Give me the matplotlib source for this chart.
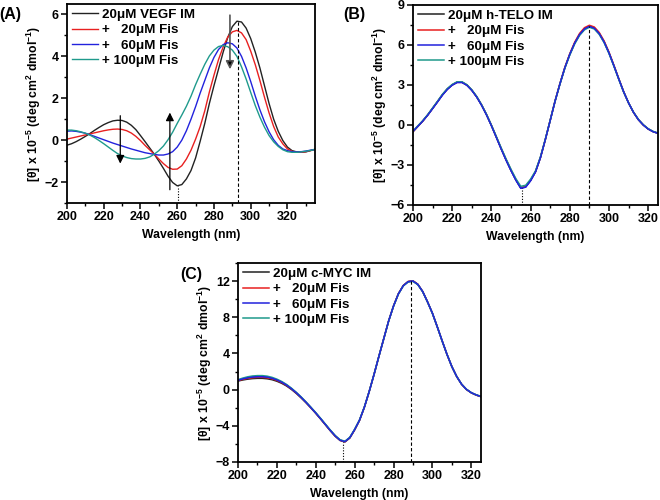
import numpy as np
import matplotlib
matplotlib.use('Agg')
import matplotlib.pyplot as plt
from matplotlib.ticker import MultipleLocator

plt.rcParams['font.family'] = ['Liberation Sans', 'DejaVu Sans']
plt.rcParams['font.weight'] = 'bold'
plt.rcParams['mathtext.fontset'] = 'custom'
plt.rcParams['mathtext.rm'] = 'Liberation Sans:bold'
plt.rcParams['mathtext.default'] = 'rm'

# ---------------- data ----------------
labels_a = ['20\u03bcM VEGF IM', '+   20\u03bcM Fis', '+   60\u03bcM Fis', '+ 100\u03bcM Fis']
labels_b = ['20\u03bcM h-TELO IM', '+   20\u03bcM Fis', '+   60\u03bcM Fis', '+ 100\u03bcM Fis']
labels_c = ['20\u03bcM c-MYC IM', '+   20\u03bcM Fis', '+   60\u03bcM Fis', '+ 100\u03bcM Fis']
colors = ['#222222', '#e82020', '#2222dd', '#1f9a8c']

# panel A: VEGF, 200-335 nm every 2.5 nm
wl_a = np.arange(200, 335.1, 2.5)
vegf_im = [-0.24, -0.17, -0.07, 0.05, 0.18, 0.32, 0.47, 0.61, 0.74, 0.84, 0.92, 0.95, 0.94, 0.86,
           0.71, 0.5, 0.22, -0.07, -0.37, -0.67, -1.0, -1.35, -1.72, -2.02, -2.18, -2.12, -1.85,
           -1.45, -0.85, -0.05, 0.8, 1.75, 2.6, 3.4, 4.2, 4.9, 5.42, 5.68, 5.64, 5.35, 4.85, 4.2,
           3.45, 2.6, 1.75, 1.0, 0.42, -0.02, -0.33, -0.5, -0.56, -0.58, -0.56, -0.5, -0.43]
vegf_20 = [0.05, 0.1, 0.15, 0.2, 0.25, 0.3, 0.35, 0.4, 0.45, 0.49, 0.52, 0.53, 0.51, 0.45,
           0.34, 0.18, -0.02, -0.25, -0.46, -0.67, -0.9, -1.12, -1.3, -1.39, -1.38, -1.22, -0.9,
           -0.48, 0.05, 0.65, 1.4, 2.3, 3.1, 3.85, 4.45, 4.92, 5.17, 5.24, 5.12, 4.8, 4.25, 3.6,
           2.85, 2.05, 1.3, 0.65, 0.15, -0.18, -0.42, -0.53, -0.57, -0.58, -0.55, -0.5, -0.45]
vegf_60 = [0.43, 0.44, 0.42, 0.38, 0.33, 0.26, 0.18, 0.1, 0.02, -0.06, -0.14, -0.21, -0.28, -0.35,
           -0.42, -0.48, -0.54, -0.6, -0.64, -0.68, -0.71, -0.71, -0.66, -0.55, -0.33, 0.0, 0.45,
           1.0, 1.6, 2.25, 2.85, 3.45, 3.95, 4.33, 4.56, 4.65, 4.6, 4.4, 4.0, 3.45, 2.8, 2.1,
           1.45, 0.88, 0.4, 0.02, -0.25, -0.42, -0.5, -0.55, -0.56, -0.55, -0.52, -0.48, -0.45]
vegf_100 = [0.48, 0.48, 0.45, 0.4, 0.33, 0.24, 0.12, -0.02, -0.17, -0.33, -0.49, -0.64, -0.75, -0.83,
            -0.88, -0.9, -0.9, -0.87, -0.8, -0.67, -0.5, -0.28, 0.02, 0.38, 0.8, 1.2, 1.62,
            2.1, 2.65, 3.15, 3.62, 4.02, 4.3, 4.47, 4.52, 4.46, 4.3, 4.0, 3.5, 2.92, 2.28, 1.65,
            1.1, 0.62, 0.22, -0.08, -0.3, -0.46, -0.55, -0.58, -0.58, -0.56, -0.53, -0.49, -0.45]

# panel B: h-TELO, 200-325 nm every 2.5 nm
wl_b = np.arange(200, 325.1, 2.5)
telo_im = [-0.5, -0.1, 0.3, 0.75, 1.25, 1.75, 2.27, 2.7, 3.02, 3.22, 3.22, 3.0, 2.62, 2.12,
           1.5, 0.78, -0.03, -0.9, -1.78, -2.62, -3.4, -4.12, -4.72, -4.62, -4.15, -3.5, -2.45,
           -1.1, 0.35, 1.8, 3.1, 4.3, 5.3, 6.15, 6.8, 7.22, 7.42, 7.28, 6.88, 6.25, 5.42,
           4.45, 3.45, 2.48, 1.65, 0.95, 0.4, 0.0, -0.3, -0.5, -0.62]
telo_20 = [-0.5, -0.1, 0.3, 0.75, 1.25, 1.75, 2.26, 2.69, 3.0, 3.2, 3.2, 2.99, 2.61, 2.11,
           1.5, 0.78, -0.03, -0.9, -1.77, -2.6, -3.38, -4.1, -4.7, -4.6, -4.13, -3.5, -2.45,
           -1.1, 0.36, 1.82, 3.13, 4.34, 5.35, 6.21, 6.87, 7.3, 7.48, 7.35, 6.94, 6.3, 5.46,
           4.48, 3.47, 2.49, 1.65, 0.95, 0.4, 0.0, -0.3, -0.5, -0.62]
telo_60 = [-0.48, -0.09, 0.3, 0.74, 1.23, 1.73, 2.24, 2.67, 2.99, 3.19, 3.19, 2.98, 2.6, 2.1,
           1.48, 0.76, -0.05, -0.92, -1.8, -2.64, -3.42, -4.14, -4.75, -4.66, -4.18, -3.52, -2.46,
           -1.1, 0.34, 1.8, 3.1, 4.3, 5.3, 6.14, 6.78, 7.2, 7.39, 7.25, 6.85, 6.22, 5.4,
           4.44, 3.44, 2.48, 1.65, 0.95, 0.4, 0.0, -0.3, -0.5, -0.62]
telo_100 = [-0.45, -0.06, 0.33, 0.78, 1.28, 1.78, 2.3, 2.73, 3.04, 3.24, 3.24, 3.02, 2.64, 2.14,
            1.52, 0.8, -0.01, -0.86, -1.72, -2.55, -3.32, -4.03, -4.6, -4.52, -4.06, -3.44, -2.4,
            -1.07, 0.36, 1.8, 3.08, 4.27, 5.25, 6.08, 6.72, 7.14, 7.33, 7.2, 6.8, 6.18, 5.36,
            4.41, 3.42, 2.46, 1.65, 0.96, 0.42, 0.02, -0.28, -0.48, -0.6]

# panel C: c-MYC, 200-325 nm every 2.5 nm
wl_c = np.arange(200, 325.1, 2.5)
myc_im = [0.95, 1.07, 1.16, 1.22, 1.25, 1.25, 1.2, 1.1, 0.93, 0.7, 0.4, 0.02, -0.42, -0.92,
          -1.45, -2.02, -2.62, -3.25, -3.9, -4.55, -5.15, -5.62, -5.78, -5.35, -4.45, -3.4, -1.95,
          -0.2, 1.7, 3.7, 5.65, 7.6, 9.25, 10.6, 11.5, 11.95, 12.02, 11.65, 10.85, 9.7, 8.45,
          6.95, 5.4, 3.9, 2.55, 1.45, 0.6, 0.02, -0.35, -0.6, -0.78]
myc_20 = [1.0, 1.14, 1.25, 1.32, 1.36, 1.36, 1.31, 1.2, 1.02, 0.78, 0.47, 0.08, -0.37, -0.88,
          -1.42, -2.0, -2.6, -3.23, -3.88, -4.53, -5.13, -5.6, -5.76, -5.33, -4.44, -3.4, -1.95,
          -0.2, 1.7, 3.7, 5.65, 7.6, 9.25, 10.6, 11.5, 11.95, 12.02, 11.65, 10.85, 9.7, 8.45,
          6.95, 5.4, 3.9, 2.55, 1.45, 0.6, 0.02, -0.35, -0.6, -0.77]
myc_60 = [1.04, 1.2, 1.32, 1.4, 1.44, 1.44, 1.39, 1.27, 1.08, 0.83, 0.51, 0.11, -0.34, -0.85,
          -1.4, -1.98, -2.58, -3.21, -3.86, -4.51, -5.11, -5.58, -5.74, -5.31, -4.42, -3.38, -1.94,
          -0.2, 1.7, 3.7, 5.65, 7.6, 9.24, 10.58, 11.48, 11.93, 12.0, 11.63, 10.84, 9.7, 8.45,
          6.95, 5.4, 3.9, 2.55, 1.45, 0.6, 0.03, -0.34, -0.58, -0.76]
myc_100 = [1.1, 1.28, 1.42, 1.51, 1.55, 1.55, 1.49, 1.36, 1.16, 0.9, 0.57, 0.16, -0.3, -0.81,
           -1.36, -1.94, -2.54, -3.17, -3.82, -4.47, -5.07, -5.54, -5.7, -5.27, -4.38, -3.35, -1.92,
           -0.19, 1.7, 3.7, 5.64, 7.58, 9.22, 10.56, 11.46, 11.9, 11.97, 11.6, 10.82, 9.68, 8.43,
           6.94, 5.39, 3.9, 2.55, 1.45, 0.61, 0.04, -0.33, -0.57, -0.74]

W, H = 660, 500


def box(l, t, r, b):
    return [l / W, 1 - b / H, (r - l) / W, (b - t) / H]


def style(ax, xlim, ylim, ymaj, ymin):
    ax.set_xlim(xlim)
    ax.set_ylim(ylim)
    ax.xaxis.set_major_locator(MultipleLocator(20))
    ax.xaxis.set_minor_locator(MultipleLocator(10))
    ax.yaxis.set_major_locator(MultipleLocator(ymaj))
    ax.yaxis.set_minor_locator(MultipleLocator(ymin))
    ax.tick_params(which='major', direction='out', length=4, width=1.1, labelsize=9, pad=2)
    ax.tick_params(which='minor', direction='out', length=2.2, width=1.0)
    for s in ax.spines.values():
        s.set_linewidth(1.3)
    for t in ax.get_xticklabels() + ax.get_yticklabels():
        t.set_fontweight('bold')
    ax.set_xlabel('Wavelength (nm)', fontsize=8.8, fontweight='bold', labelpad=4)
    ax.set_ylabel('[\u03b8] x 10$^{-5}$ (deg cm$^{2}$ dmol$^{-1}$)', fontsize=8.8,
                  fontweight='bold', labelpad=1)
    ax.legend(loc='upper left', frameon=False, handlelength=2.0,
              handletextpad=0.3, labelspacing=0.22, borderaxespad=0.15,
              borderpad=0.2, prop={'weight': 'bold', 'size': 9.6})


fig = plt.figure(figsize=(6.6, 5.0), dpi=100)

# ---- (A) ----
ax = fig.add_axes(box(67, 4, 315, 203))
for y, lab, c in zip([vegf_im, vegf_20, vegf_60, vegf_100], labels_a, colors):
    ax.plot(wl_a, y, color=c, lw=1.0, label=lab)
ax.plot([293, 293], [-3, 5.7], color='black', lw=0.8, ls=(0, (3, 2)))
ax.plot([260.5, 260.5], [-3, -2.2], color='black', lw=0.8, ls=(0, (1, 1.5)))
ax.annotate('', xy=(229, -1.25), xytext=(229, 1.3),
            arrowprops=dict(arrowstyle='-|>', color='black', lw=0.9, mutation_scale=12))
ax.annotate('', xy=(256, 1.45), xytext=(256, -2.5),
            arrowprops=dict(arrowstyle='-|>', color='black', lw=0.9, mutation_scale=12))
ax.annotate('', xy=(288.7, 3.25), xytext=(288.7, 6.1),
            arrowprops=dict(arrowstyle='-|>', color='#555555', lw=1.2, mutation_scale=12,
                            fc='black'))
style(ax, (200, 335), (-3, 6.5), 2, 1)
fig.text(10 / W, 1 - 15 / H, '(A)', fontsize=11.5, fontweight='bold', ha='center', va='center')

# ---- (B) ----
ax = fig.add_axes(box(413, 5, 658, 205))
for y, lab, c in zip([telo_im, telo_20, telo_60, telo_100], labels_b, colors):
    ax.plot(wl_b, y, color=c, lw=1.1, label=lab)
ax.plot(wl_b, telo_60, color=colors[2], lw=0.9)
ax.plot([290, 290], [-6, 7.4], color='black', lw=0.8, ls=(0, (3, 2)))
ax.plot([255.5, 255.5], [-6, -4.75], color='black', lw=0.8, ls=(0, (1, 1.5)))
style(ax, (200, 325), (-6, 9), 3, 1.5)
fig.text(354 / W, 1 - 15 / H, '(B)', fontsize=11.5, fontweight='bold', ha='center', va='center')

# ---- (C) ----
ax = fig.add_axes(box(238, 263, 481, 462))
for y, lab, c in zip([myc_im, myc_20, myc_60, myc_100], labels_c, colors):
    ax.plot(wl_c, y, color=c, lw=1.1, label=lab)
ax.plot(wl_c, myc_60, color=colors[2], lw=0.9)
ax.plot([289, 289], [-8, 12], color='black', lw=0.8, ls=(0, (3, 2)))
ax.plot([254, 254], [-8, -5.8], color='black', lw=0.8, ls=(0, (1, 1.5)))
style(ax, (200, 325), (-8, 14), 4, 2)
fig.text(191 / W, 1 - 275 / H, '(C)', fontsize=11.5, fontweight='bold', ha='center', va='center')

fig.savefig('out.png', dpi=100)
